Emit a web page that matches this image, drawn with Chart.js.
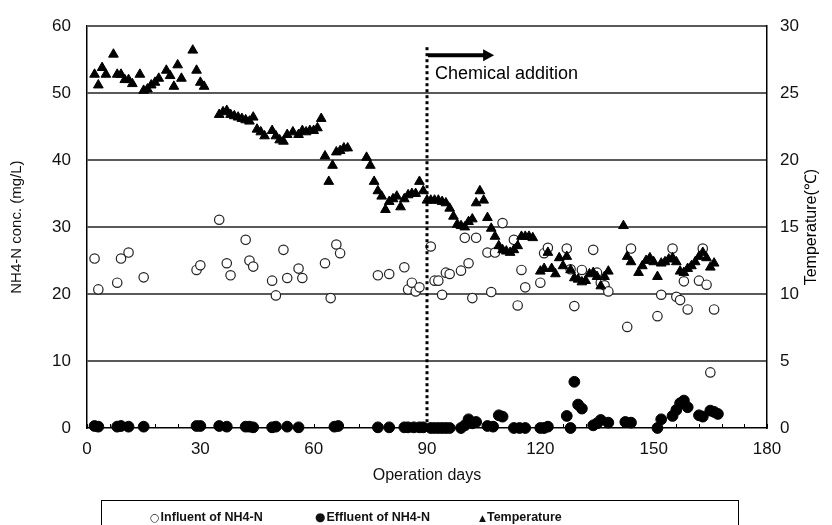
<!DOCTYPE html>
<html>
<head>
<meta charset="utf-8">
<script src="https://cdn.jsdelivr.net/npm/chart.js@4/dist/chart.umd.min.js"></script>
<style>
  html, body { margin: 0; padding: 0; background: #fff; }
  #wrap { position: relative; width: 832px; height: 525px; overflow: hidden; }
  #legend { position: absolute; left: 101px; top: 500px; width: 638px; height: 40px;
            border: 1px solid #000; box-sizing: border-box;
            font-family: "Liberation Sans", Arial, sans-serif; font-weight: bold; font-size: 12.5px; color: #111; }
  #legend span.item { position: absolute; top: 9px; white-space: nowrap; line-height: 15px; }
  #legend .sym { font-weight: normal; margin-right: 1px; font-family: "DejaVu Sans", sans-serif; display: inline-block; line-height: 12px; }
</style>
</head>
<body>
<div id="wrap">
  <canvas id="c" width="832" height="525"></canvas>
  <div id="legend">
    <span class="item" style="left:48px"><span class="sym" style="font-size:11px">○</span>Influent of NH4-N</span>
    <span class="item" style="left:213px"><span class="sym" style="font-size:12px">●</span>Effluent of NH4-N</span>
    <span class="item" style="left:377px"><span class="sym" style="font-size:9px">▲</span>Temperature</span>
  </div>
</div>
<script>
// ---- data ----
const xTickValues = [0, 30, 60, 90, 120, 150, 180];
const leftTicks = [0, 10, 20, 30, 40, 50, 60];
const rightTicks = [0, 5, 10, 15, 20, 25, 30];
const chemicalDay = 90;
const chemicalLabel = "Chemical addition";

const inflDays = [2,3,8,9,11,15,29,30,35,37,38,42,43,44,49,50,52,53,56,57,63,64.5,66,67,77,80,84,85,86,87,88,91,92,93,94,95,96,99,100,101,102,103,106,107,108,110,113,114,115,116,120,121,122,127,128,129,131,134,135,136,137,138,143,144,151,152,155,156,157,158,159,162,163,164,165,166];
const inflVals = [25.3,20.7,21.7,25.3,26.2,22.5,23.6,24.3,31.1,24.6,22.8,28.1,25.0,24.1,22.0,19.8,26.6,22.4,23.8,22.4,24.6,19.4,27.4,26.1,22.8,23.0,24.0,20.7,21.7,20.4,21.0,27.1,22.0,22.0,19.9,23.2,23.0,23.5,28.4,24.6,19.4,28.4,26.2,20.3,26.2,30.6,28.1,18.3,23.6,21.0,21.7,26.1,26.9,26.8,23.7,18.2,23.6,26.6,23.2,21.7,21.3,20.4,15.1,26.8,16.7,19.9,26.8,19.6,19.1,21.9,17.7,22.0,26.8,21.4,8.3,17.7];

const effDays = [2,3,8,9,11,15,29,30,35,37,42,43,44,49,50,53,56,65.5,66.5,77,80,84,85,86.5,88,89,91,92,93,94,95,96,99,100,101,102,103,106,107.5,109,110,113,114.5,116,120,121,122,127,128,129,130,131,134,135,136,138,142.5,144,151,152,155,156,157,158,159,162,163,165,166,167];
const effVals = [0.3,0.2,0.2,0.3,0.2,0.2,0.3,0.3,0.3,0.2,0.2,0.2,0.1,0.1,0.2,0.2,0.1,0.2,0.3,0.1,0.1,0.1,0.1,0.1,0.1,0.1,0,0,0,0,0,0,0,0.4,1.3,0.7,0.9,0.3,0.2,1.9,1.7,0,0,0,0,0,0.2,1.8,0,6.9,3.5,2.9,0.4,0.7,1.2,0.8,0.9,0.8,0,1.3,1.8,2.7,3.7,4.1,3.1,1.9,1.7,2.6,2.4,2.1];

const tempDays = [2,3,4,5,7,8,9,10,11,12,14,15,16,17,18,19,21,22,23,24,25,28,29,30,31,35,36,37,38,39,40,41,42,43,44,45,46,47,49,50,51,52,53,54.5,56,57,58,59,60,61,62,63,64,65,66,67,68,69,74,75,76,77,78,79,80,81,82,83,84,85,86,87,88,89,90,91,92,93,94,95,96,97,98,99,100,101,102,103,104,105,106,107,108,109,110,111,112,113,114,115,116,117,118,120,121,122,123,124,125,126,127,128,129,130,131,132,133,134,135,136,137,138,142,143,144,146,147,148,149,150,151,152,153,154,155,156,157,158,159,160,161,162,163,164,165,166];
const tempVals = [26.4,25.6,26.9,26.4,27.9,26.4,26.4,26.0,26.0,25.7,26.4,25.2,25.3,25.6,25.8,26.1,26.7,26.3,25.5,27.1,26.1,28.2,26.7,25.8,25.5,23.4,23.6,23.7,23.4,23.3,23.2,23.1,23.0,22.9,23.2,22.3,22.1,21.8,22.2,21.8,21.5,21.4,21.9,22.1,21.9,22.2,22.1,22.2,22.2,22.4,23.1,20.3,18.4,19.6,20.6,20.7,20.9,20.9,20.2,19.6,18.4,17.7,17.3,16.3,16.9,17.1,17.3,16.5,17.1,17.4,17.5,17.5,18.4,17.7,17.0,17.0,17.0,17.0,16.9,16.8,16.4,15.8,15.2,15.1,15.0,15.4,15.6,16.8,17.7,17.0,15.7,14.9,14.3,13.6,13.3,13.2,13.1,13.3,13.6,14.3,14.3,14.3,14.2,11.7,11.9,13.1,11.9,11.5,12.7,12.1,12.8,11.8,11.2,11.1,10.9,11.0,11.5,11.6,11.3,10.6,11.3,11.7,15.1,12.8,12.4,11.6,12.1,12.5,12.7,12.4,11.3,12.3,12.4,12.6,12.7,12.4,11.7,11.6,11.9,12.1,12.4,12.8,13.1,12.7,12.0,12.3];

const toPts = (xs, ys) => xs.map((x, i) => ({ x: x, y: ys[i] }));

const FONT = '"Liberation Sans", Arial, sans-serif';

const extras = {
  id: 'extras',
  afterDatasetsDraw(chart) {
    const ctx = chart.ctx;
    const xs = chart.scales.x;
    const area = chart.chartArea;
    ctx.save();
    // minor ticks on x axis (inside)
    ctx.strokeStyle = '#000';
    ctx.lineWidth = 1;
    for (let d = 0; d <= 180; d += 6) {
      const px = Math.round(xs.getPixelForValue(d)) + 0.5;
      ctx.beginPath();
      ctx.moveTo(px, area.bottom);
      ctx.lineTo(px, area.bottom - 4);
      ctx.stroke();
    }
    // dotted vertical line
    const lx = xs.getPixelForValue(chemicalDay);
    ctx.lineWidth = 3;
    ctx.setLineDash([3, 3]);
    ctx.beginPath();
    ctx.moveTo(lx, area.top + 21);
    ctx.lineTo(lx, area.bottom);
    ctx.stroke();
    ctx.setLineDash([]);
    // arrow
    const ay = area.top + 29;
    const ax1 = lx + 1, ax2 = xs.getPixelForValue(chemicalDay + 17.5);
    ctx.lineWidth = 4;
    ctx.beginPath();
    ctx.moveTo(ax1, ay);
    ctx.lineTo(ax2 - 8, ay);
    ctx.stroke();
    ctx.fillStyle = '#000';
    ctx.beginPath();
    ctx.moveTo(ax2 - 10, ay - 6);
    ctx.lineTo(ax2 + 1, ay);
    ctx.lineTo(ax2 - 10, ay + 6);
    ctx.closePath();
    ctx.fill();
    // label
    ctx.font = '18px ' + FONT;
    ctx.textBaseline = 'alphabetic';
    ctx.textAlign = 'left';
    ctx.fillText(chemicalLabel, lx + 8, area.top + 53);
    // right axis title, reading bottom to top
    ctx.translate(812, (area.top + area.bottom) / 2);
    ctx.rotate(-Math.PI / 2);
    ctx.textAlign = 'center';
    ctx.textBaseline = 'middle';
    ctx.font = '16px ' + FONT;
    ctx.fillText('Temperature(℃)', 0, 0);
    ctx.restore();
  }
};

new Chart(document.getElementById('c'), {
  type: 'scatter',
  data: {
    datasets: [
      {
        label: 'Influent of NH4-N',
        data: toPts(inflDays, inflVals),
        yAxisID: 'y',
        pointStyle: 'circle',
        pointRadius: 4.7,
        pointBackgroundColor: '#fff',
        pointBorderColor: '#222',
        pointBorderWidth: 1.2,
        clip: false,
        order: 3
      },
      {
        label: 'Effluent of NH4-N',
        data: toPts(effDays, effVals),
        yAxisID: 'y',
        pointStyle: 'circle',
        pointRadius: 5.4,
        pointBackgroundColor: '#000',
        pointBorderColor: '#000',
        pointBorderWidth: 1,
        clip: false,
        order: 2
      },
      {
        label: 'Temperature',
        data: toPts(tempDays, tempVals),
        yAxisID: 'y1',
        pointStyle: 'triangle',
        pointRadius: 5.6,
        pointBackgroundColor: '#000',
        pointBorderColor: '#000',
        pointBorderWidth: 1,
        clip: false,
        order: 1
      }
    ]
  },
  options: {
    responsive: false,
    animation: false,
    events: [],
    layout: { padding: { top: 20, bottom: 40, left: 0, right: 0 } },
    plugins: { legend: { display: false }, tooltip: { enabled: false } },
    scales: {
      x: {
        type: 'linear',
        min: 0, max: 180,
        afterBuildTicks: (s) => { s.ticks = xTickValues.map(v => ({ value: v })); },
        afterFit: (s) => { s.height = 57; },
        grid: { display: true, drawOnChartArea: false, drawTicks: false },
        border: { display: true, color: '#000', width: 1.5 },
        ticks: { padding: 11, color: '#111', font: { family: FONT, size: 17 }, maxRotation: 0 },
        title: { display: true, text: 'Operation days', color: '#111', font: { family: FONT, size: 16 }, padding: { top: 0, bottom: 0 } }
      },
      y: {
        position: 'left',
        min: 0, max: 60,
        afterBuildTicks: (s) => { s.ticks = leftTicks.map(v => ({ value: v })); },
        afterFit: (s) => { s.width = 87; },
        grid: { color: (c) => c.tick.value === 0 ? 'rgba(0,0,0,0)' : '#5a5a5a', lineWidth: 2, drawTicks: false },
        border: { display: true, color: '#000', width: 1.5 },
        ticks: { padding: 16, color: '#111', font: { family: FONT, size: 17 } },
        title: { display: true, text: 'NH4-N conc. (mg/L)', color: '#111', font: { family: FONT, size: 15 }, padding: { top: 8, bottom: 0 } }
      },
      y1: {
        position: 'right',
        min: 0, max: 30,
        afterBuildTicks: (s) => { s.ticks = rightTicks.map(v => ({ value: v })); },
        afterFit: (s) => { s.width = 65; },
        grid: { drawOnChartArea: false, drawTicks: false },
        border: { display: true, color: '#000', width: 1.5 },
        ticks: { padding: 13, color: '#111', font: { family: FONT, size: 17 } }
      }
    }
  },
  plugins: [extras]
});
</script>
</body>
</html>
